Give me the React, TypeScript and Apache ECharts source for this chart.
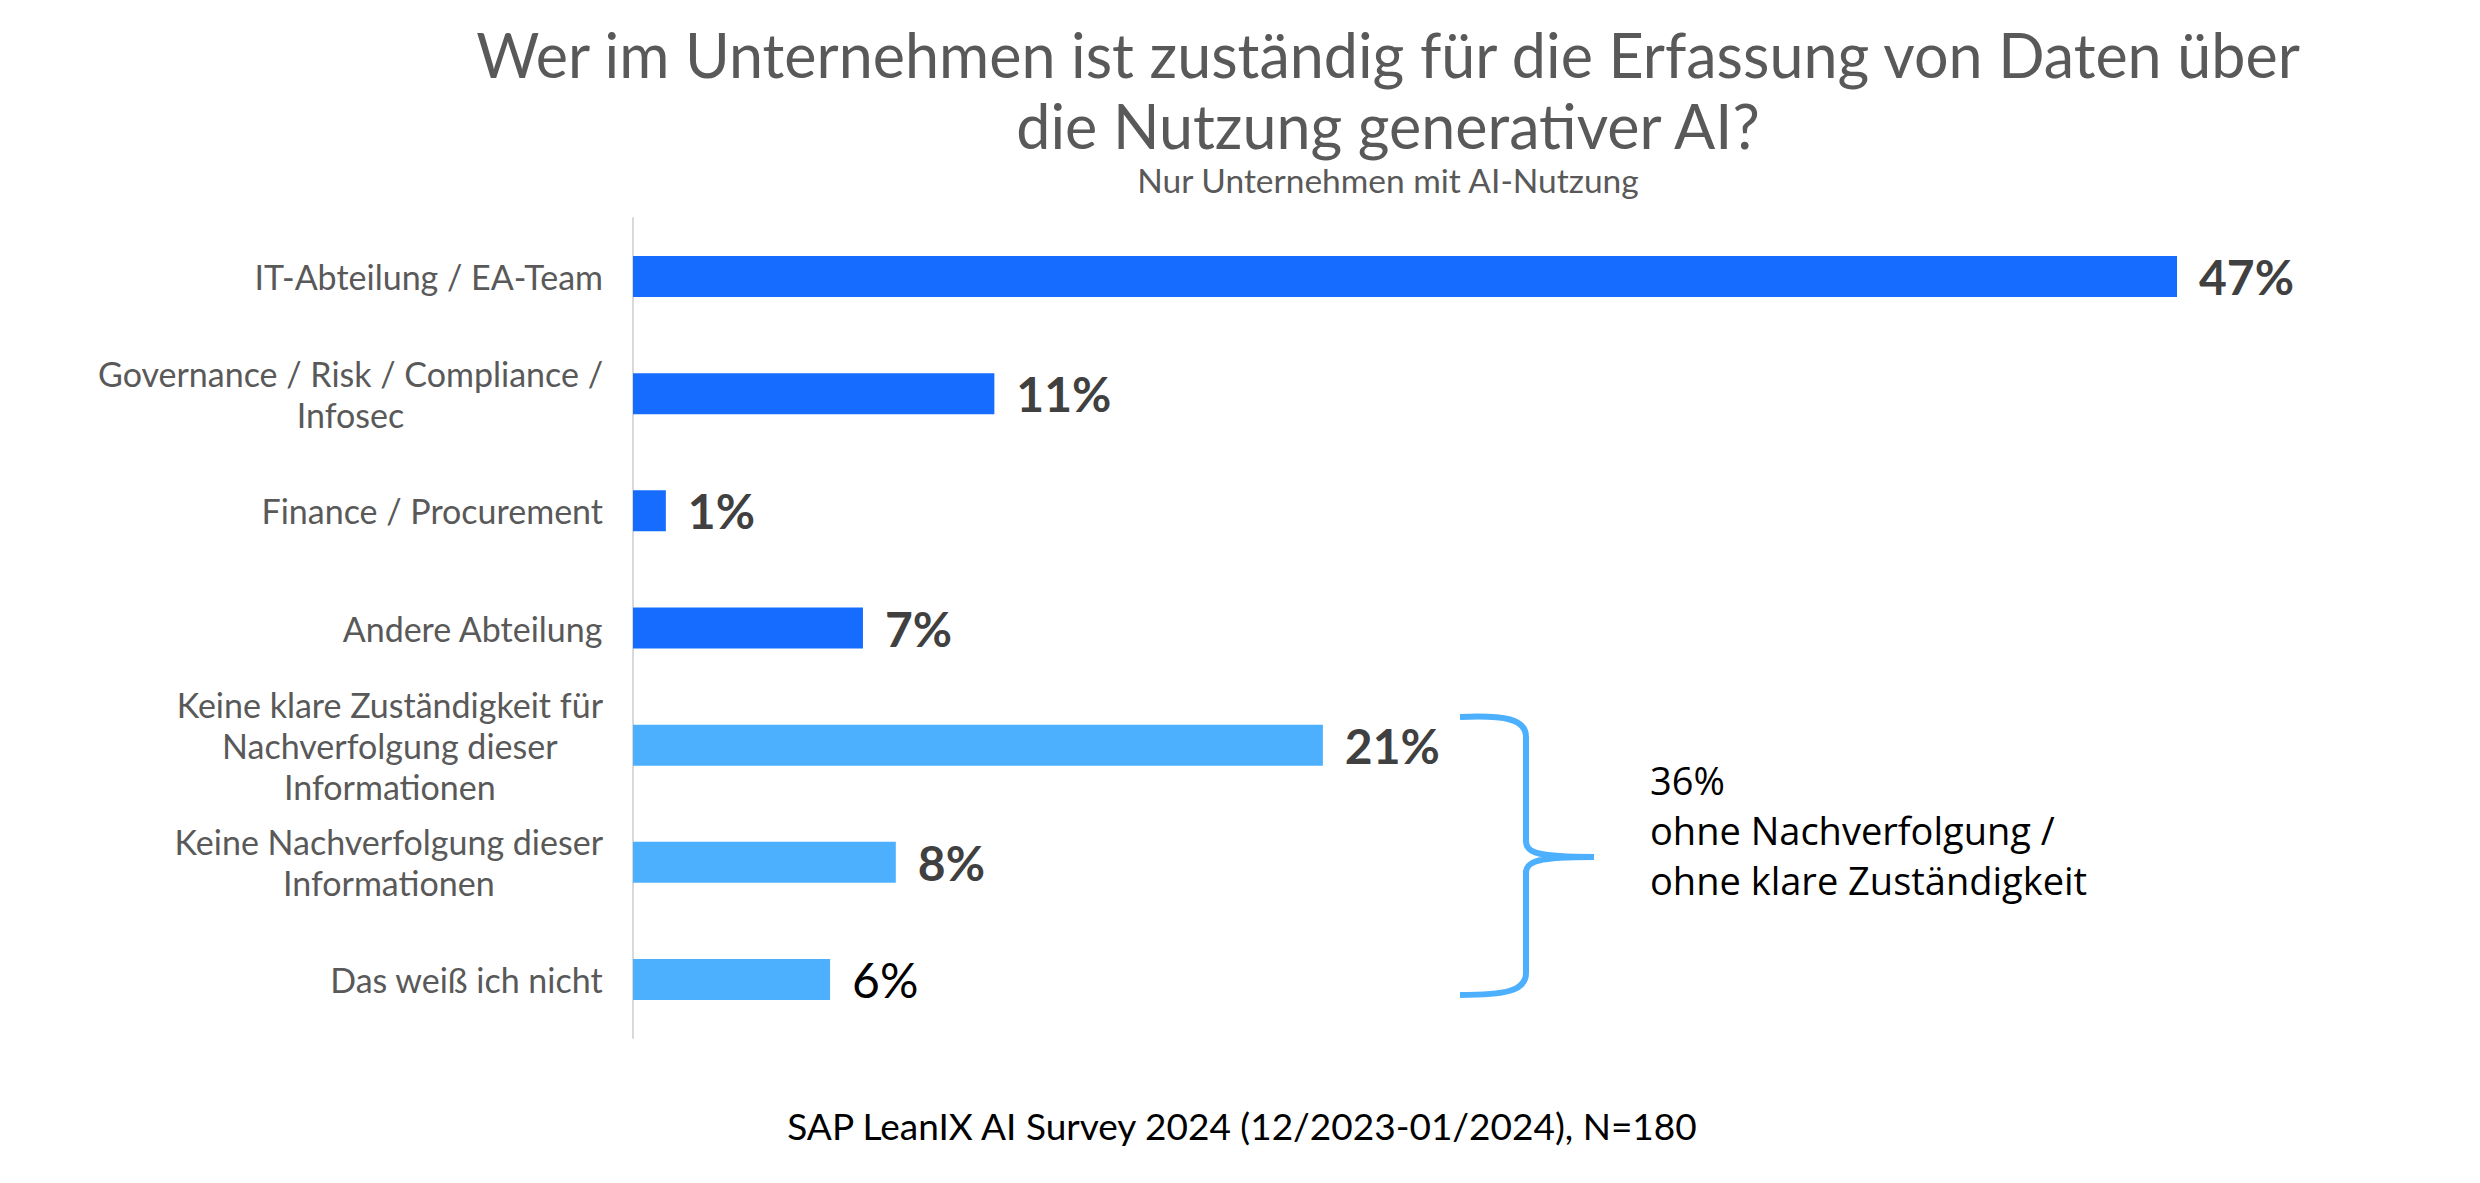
import React, { useEffect, useRef } from "react";
import * as echarts from "echarts";

// ---------- data ----------
const titleLines = [
  "Wer im Unternehmen ist zuständig für die Erfassung von Daten über",
  "die Nutzung generativer AI?",
];
const subtitle = "Nur Unternehmen mit AI-Nutzung";
const footer = "SAP LeanIX AI Survey 2024 (12/2023-01/2024), N=180";

const categories = [
  "IT-Abteilung / EA-Team",
  "Governance / Risk / Compliance /\nInfosec",
  "Finance / Procurement",
  "Andere Abteilung",
  "Keine klare Zuständigkeit für\nNachverfolgung dieser\nInformationen",
  "Keine Nachverfolgung dieser\nInformationen",
  "Das weiß ich nicht",
];
const values = [47, 11, 1, 7, 21, 8, 6];
const valueLabels = ["47%", "11%", "1%", "7%", "21%", "8%", "6%"];
// true = a department is responsible, false = no tracking / no clear responsibility
const hasOwner = [true, true, true, true, false, false, false];

const bracketLines = ["36%", "ohne Nachverfolgung /", "ohne klare Zuständigkeit"];

// ---------- styles ----------
const FONT = "Lato, 'Open Sans', sans-serif";
const NOTE_FONT = "'Open Sans', Lato, sans-serif";
const DARK = "#166CFF";
const LIGHT = "#4DB0FF";
const GREY_TEXT = "#595959";
const LABEL_TEXT = "#404040";
const REGULAR_LABEL_INDEX = 6;

const BRACE_D =
  "M0,2 C45,0 66,4 66,22 L66,126 C66,138 78,142 134,142 C78,142 66,146 66,158 L66,258 C66,276 45,280 0,280";

let braceRegistered = false;

export default function App() {
  const ref = useRef<HTMLDivElement>(null);

  useEffect(() => {
    document.body.style.margin = "0";
    if (!braceRegistered) {
      echarts.graphic.registerShape("brace", echarts.graphic.extendPath(BRACE_D, {}) as any);
      braceRegistered = true;
    }
    const chart = echarts.init(ref.current!, null, { renderer: "svg" });

    const data = values.map((v, i) => ({
      value: v,
      itemStyle: { color: hasOwner[i] ? DARK : LIGHT },
      label:
        i === REGULAR_LABEL_INDEX
          ? { fontWeight: "normal" as const, color: "#000000" }
          : { fontWeight: "bold" as const, color: LABEL_TEXT },
    }));

    chart.setOption({
      animation: false,
      backgroundColor: "#ffffff",
      grid: { left: 633, top: 218, width: 1544, height: 820, containLabel: false },
      xAxis: { type: "value", min: 0, max: 47, show: false },
      yAxis: {
        type: "category",
        data: categories,
        inverse: true,
        axisLine: { show: true, lineStyle: { color: "#d9d9d9", width: 2 } },
        axisTick: { show: false },
        splitLine: { show: false },
        axisLabel: {
          margin: 30,
          align: "right",
          fontFamily: FONT,
          fontSize: 34,
          lineHeight: 41,
          color: GREY_TEXT,
          formatter: (v: string) =>
            v
              .split("\n")
              .map((l) => `{c|${l}}`)
              .join("\n"),
          rich: {
            c: {
              align: "center",
              fontFamily: FONT,
              fontSize: 34,
              lineHeight: 41,
              color: GREY_TEXT,
            },
          },
        },
      },
      series: [
        {
          type: "bar",
          barWidth: 41,
          data,
          label: {
            show: true,
            position: "right",
            distance: 22,
            fontFamily: FONT,
            fontSize: 48,
            formatter: (p: any) => valueLabels[p.dataIndex],
          },
        },
      ],
      graphic: [
        {
          type: "text",
          x: 1388,
          y: 90,
          style: {
            text: titleLines.join("\n"),
            align: "center",
            verticalAlign: "middle",
            fontFamily: FONT,
            fontSize: 61,
            lineHeight: 71,
            fill: GREY_TEXT,
          },
        },
        {
          type: "text",
          x: 1388,
          y: 180,
          style: {
            text: subtitle,
            align: "center",
            verticalAlign: "middle",
            fontFamily: FONT,
            fontSize: 33.5,
            fill: GREY_TEXT,
          },
        },
        {
          type: "brace",
          x: 1460,
          y: 715,
          style: { fill: "none", stroke: LIGHT, lineWidth: 6 },
        },
        {
          type: "text",
          x: 1650,
          y: 830,
          style: {
            text: bracketLines.join("\n"),
            align: "left",
            verticalAlign: "middle",
            fontFamily: NOTE_FONT,
            fontSize: 38,
            lineHeight: 50,
            fill: "#000000",
          },
        },
        {
          type: "text",
          x: 1242,
          y: 1125,
          style: {
            text: footer,
            align: "center",
            verticalAlign: "middle",
            fontFamily: FONT,
            fontSize: 37,
            fill: "#000000",
          },
        },
      ],
    });

    return () => chart.dispose();
  }, []);

  return <div ref={ref} style={{ width: 2480, height: 1183 }} />;
}
